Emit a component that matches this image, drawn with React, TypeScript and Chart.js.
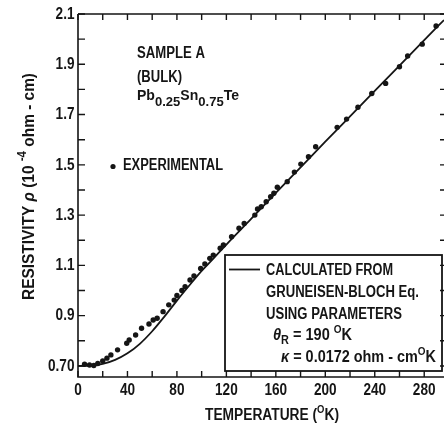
import { useEffect, useRef } from 'react';
import { Chart, registerables } from 'chart.js';

Chart.register(...registerables);

// Experimental points: temperature (K) and resistivity (1e-4 ohm-cm)
const expTemperature = [
  5.3, 9.3, 12.8, 16, 20, 23.4, 26.6, 32, 39.4, 41.4, 46.6, 51.4, 57.4, 60.8, 64,
  68.8, 73.4, 77.8, 80, 84, 86.6, 90.6, 93.8, 99.2, 102.6, 106.6, 109.4, 115, 117.6,
  124.2, 130.2, 134.4, 143, 145.2, 148.2, 152.2, 155.8, 158.4, 161.2, 169.2, 175,
  180.2, 186.4, 192.2, 209.6, 217.2, 226.4, 237.6, 248.8, 260, 266.6, 278.4, 289.6,
];
const expResistivity = [
  0.707, 0.704, 0.702, 0.71, 0.72, 0.731, 0.744, 0.764, 0.79, 0.803, 0.823, 0.85, 0.867,
  0.883, 0.89, 0.916, 0.943, 0.962, 0.98, 1.0, 1.015, 1.042, 1.058, 1.088, 1.106, 1.128,
  1.141, 1.168, 1.181, 1.214, 1.248, 1.267, 1.3, 1.324, 1.333, 1.353, 1.373, 1.387,
  1.411, 1.433, 1.471, 1.503, 1.532, 1.572, 1.649, 1.682, 1.729, 1.784, 1.824, 1.89,
  1.933, 1.98, 2.052,
];

// Calculated Gruneisen-Bloch curve
const calcTemperature = [0, 10, 20, 30, 40, 50, 60, 70, 80, 90, 100, 110, 120, 140, 160, 180, 200, 220, 240, 260, 280, 296];
const calcResistivity = [
  0.7, 0.701, 0.708, 0.724, 0.75, 0.788, 0.838, 0.897, 0.96, 1.02, 1.078, 1.13, 1.183,
  1.285, 1.388, 1.49, 1.592, 1.693, 1.794, 1.895, 1.996, 2.076,
];

const xTickValues = [0, 20, 40, 60, 80, 100, 120, 140, 160, 180, 200, 220, 240, 260, 280];
const xTickLabels = ['0', '', '40', '', '80', '', '120', '', '160', '', '200', '', '240', '', '280'];
const yTickValues = [0.7, 0.8, 0.9, 1.0, 1.1, 1.2, 1.3, 1.4, 1.5, 1.6, 1.7, 1.8, 1.9, 2.0, 2.1];
const yTickLabels = ['0.70', '', '0.9', '', '1.1', '', '1.3', '', '1.5', '', '1.7', '', '1.9', '', '2.1'];

const X_MIN = 0;
const X_MAX = 296;
const Y_MIN = 0.656;
const Y_MAX = 2.1;

const INK = '#151515';
const FONT = '"Liberation Sans", Arial, sans-serif';

type Seg = { t: string; size?: number; dy?: number; italic?: boolean };

function fontOf(s: Seg, base: number, weight: string) {
  return `${s.italic ? 'italic ' : ''}${weight} ${s.size ?? base}px ${FONT}`;
}

function drawRich(ctx: CanvasRenderingContext2D, x: number, y: number, segs: Seg[], base: number, targetW: number, rotate = false, weight = 'normal') {
  ctx.save();
  let natural = 0;
  for (const s of segs) {
    ctx.font = fontOf(s, base, weight);
    natural += ctx.measureText(s.t).width;
  }
  const sx = targetW / natural;
  ctx.translate(x, y);
  if (rotate) ctx.rotate(-Math.PI / 2);
  ctx.scale(sx, 1);
  ctx.fillStyle = INK;
  ctx.textBaseline = 'alphabetic';
  ctx.textAlign = 'left';
  let cx = 0;
  for (const s of segs) {
    ctx.font = fontOf(s, base, weight);
    ctx.fillText(s.t, cx, s.dy ?? 0);
    cx += ctx.measureText(s.t).width;
  }
  ctx.restore();
}

function drawTickLabel(ctx: CanvasRenderingContext2D, text: string, x: number, y: number, align: 'right' | 'center') {
  if (!text) return;
  ctx.save();
  ctx.font = `bold 17px ${FONT}`;
  ctx.fillStyle = INK;
  ctx.textBaseline = 'middle';
  ctx.textAlign = align;
  ctx.translate(x, y);
  ctx.scale(0.8, 1);
  ctx.fillText(text, 0, 0);
  ctx.restore();
}

const decorPlugin = {
  id: 'decor',
  afterDraw(chart: any) {
    const { ctx, chartArea: a, scales } = chart;
    const xs = scales.x;
    const ys = scales.y;
    ctx.save();
    ctx.strokeStyle = INK;
    ctx.lineWidth = 1.6;
    ctx.lineCap = 'butt';
    ctx.beginPath();
    ctx.moveTo(a.left, a.top);
    ctx.lineTo(a.right, a.top);
    ctx.moveTo(a.left, a.top);
    ctx.lineTo(a.left, a.bottom);
    ctx.lineTo(a.right, a.bottom);
    ctx.stroke();

    ctx.lineWidth = 1.4;
    ctx.beginPath();
    for (const t of xs.ticks) {
      const px = xs.getPixelForValue(t.value);
      ctx.moveTo(px, a.bottom);
      ctx.lineTo(px, a.bottom - 6);
      ctx.moveTo(px, a.top);
      ctx.lineTo(px, a.top + 6);
    }
    for (const t of ys.ticks) {
      const py = ys.getPixelForValue(t.value);
      ctx.moveTo(a.left, py);
      ctx.lineTo(a.left + 7, py);
      ctx.moveTo(a.right, py);
      ctx.lineTo(a.right - 4, py);
    }
    ctx.stroke();

    // legend box
    ctx.lineWidth = 1.8;
    ctx.strokeRect(225, 255, 217, 116);
    ctx.beginPath();
    ctx.moveTo(229, 269.5);
    ctx.lineTo(260, 269.5);
    ctx.stroke();

    // experimental marker
    ctx.fillStyle = INK;
    ctx.beginPath();
    ctx.arc(113, 166.5, 2.6, 0, Math.PI * 2);
    ctx.fill();
    ctx.restore();

    // tick labels from the chart's own scales
    xs.ticks.forEach((t: any, i: number) => {
      drawTickLabel(ctx, xTickLabels[i] ?? '', xs.getPixelForValue(t.value), 390, 'center');
    });
    ys.ticks.forEach((t: any, i: number) => {
      drawTickLabel(ctx, yTickLabels[i] ?? '', 74.5, ys.getPixelForValue(t.value), 'right');
    });

    const W = 'bold';
    drawRich(ctx, 137, 58, [{ t: 'SAMPLE A' }], 16, 68, false, W);
    drawRich(ctx, 137, 82, [{ t: '(BULK)' }], 16, 45, false, W);
    drawRich(ctx, 137, 100, [
      { t: 'Pb', size: 14 },
      { t: '0.25', size: 13, dy: 6 },
      { t: 'Sn', size: 14 },
      { t: '0.75', size: 13, dy: 6 },
      { t: 'Te', size: 14 },
    ], 14, 102, false, W);
    drawRich(ctx, 123, 170, [{ t: 'EXPERIMENTAL' }], 16, 100, false, W);

    drawRich(ctx, 266, 275, [{ t: 'CALCULATED FROM' }], 16, 127, false, W);
    drawRich(ctx, 266, 296.5, [{ t: 'GRUNEISEN-BLOCH Eq.' }], 16, 153, false, W);
    drawRich(ctx, 266, 318.5, [{ t: 'USING PARAMETERS' }], 16, 136, false, W);
    drawRich(ctx, 273, 340, [
      { t: 'θ', italic: true },
      { t: 'R', size: 12, dy: 4 },
      { t: ' = 190 ' },
      { t: 'O', size: 11, dy: -7 },
      { t: 'K' },
    ], 16, 79, false, W);
    drawRich(ctx, 281, 362, [
      { t: 'κ', italic: true },
      { t: ' = 0.0172 ohm - cm' },
      { t: 'O', size: 11, dy: -7 },
      { t: 'K' },
    ], 16, 155, false, W);

    drawRich(ctx, 205, 420, [
      { t: 'TEMPERATURE (' },
      { t: 'O', size: 11, dy: -7 },
      { t: 'K)' },
    ], 16, 134, false, W);
    drawRich(ctx, 34, 300, [
      { t: 'RESISTIVITY ' },
      { t: 'ρ', italic: true },
      { t: ' (10 ' },
      { t: '-4', size: 12, dy: -8 },
      { t: ' ohm - cm)' },
    ], 16, 227, true, W);
  },
};

export default function App() {
  const ref = useRef<HTMLCanvasElement | null>(null);

  useEffect(() => {
    const canvas = ref.current;
    if (!canvas) return;
    const chart = new Chart(canvas, {
      type: 'scatter',
      data: {
        datasets: [
          {
            label: 'Calculated from Gruneisen-Bloch Eq.',
            data: calcTemperature.map((t, i) => ({ x: t, y: calcResistivity[i] })),
            showLine: true,
            borderColor: INK,
            backgroundColor: INK,
            borderWidth: 1.8,
            pointRadius: 0,
            cubicInterpolationMode: 'monotone',
          },
          {
            label: 'Experimental',
            data: expTemperature.map((t, i) => ({ x: t, y: expResistivity[i] })),
            showLine: false,
            backgroundColor: INK,
            borderColor: INK,
            borderWidth: 0,
            pointRadius: 2.7,
          },
        ],
      },
      options: {
        animation: false,
        responsive: false,
        devicePixelRatio: 1,
        layout: { padding: { top: 14, left: 0, right: 0, bottom: 0 } },
        plugins: { legend: { display: false }, tooltip: { enabled: false } },
        scales: {
          x: {
            type: 'linear',
            min: X_MIN,
            max: X_MAX,
            afterBuildTicks: (s: any) => {
              s.ticks = xTickValues.map((v) => ({ value: v }));
            },
            afterFit: (s: any) => {
              s.height = 48;
            },
            grid: { display: false, drawTicks: false },
            border: { display: false },
            ticks: { display: false, callback: (_v: any, i: number) => xTickLabels[i], autoSkip: false },
          },
          y: {
            type: 'linear',
            min: Y_MIN,
            max: Y_MAX,
            afterBuildTicks: (s: any) => {
              s.ticks = yTickValues.map((v) => ({ value: v }));
            },
            afterFit: (s: any) => {
              s.width = 78;
            },
            grid: { display: false, drawTicks: false },
            border: { display: false },
            ticks: { display: false, callback: (_v: any, i: number) => yTickLabels[i], autoSkip: false },
          },
        },
      },
      plugins: [decorPlugin],
    });
    return () => chart.destroy();
  }, []);

  return (
    <div style={{ position: 'fixed', left: 0, top: 0, width: 448, height: 425, background: '#fff' }}>
      <canvas ref={ref} width={448} height={425} style={{ display: 'block', width: 448, height: 425 }} />
    </div>
  );
}
